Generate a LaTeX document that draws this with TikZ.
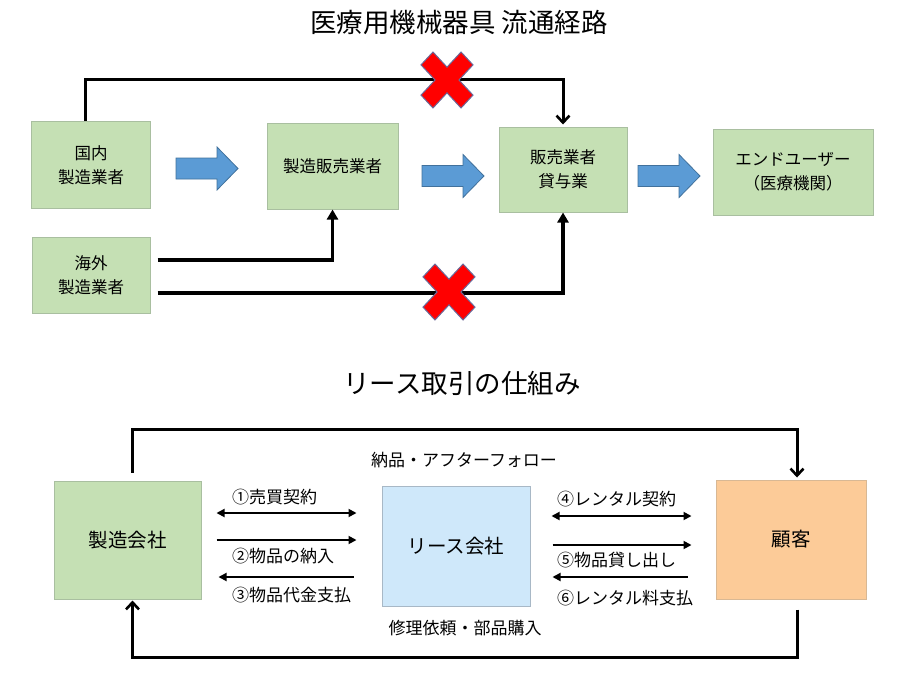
\documentclass[tikz,border=0pt]{standalone}
\usepackage{fontspec}
\setmainfont{Noto Sans CJK JP}
\usetikzlibrary{arrows.meta,calc}
\definecolor{boxgreen}{HTML}{C5E0B4}
\definecolor{boxgreenline}{HTML}{A9BFA0}
\definecolor{boxblue}{HTML}{CFE8FA}
\definecolor{boxblueline}{HTML}{A8B8C6}
\definecolor{boxorange}{HTML}{FCCB98}
\definecolor{boxorangeline}{HTML}{D8B894}
\definecolor{arrowblue}{HTML}{5B9BD5}
\definecolor{arrowblueline}{HTML}{41719C}
\definecolor{crossred}{HTML}{FF0000}
\definecolor{crossline}{HTML}{6A6A9A}
\newcommand\mybluearrow[2]{%
  \draw[bluearr] (#1,#2-10.5) -- ++(41,0) -- ++(0,-11) -- ++(21,21.5) -- ++(-21,21.5) -- ++(0,-11) -- ++(-41,0) -- cycle;}
\newcommand\mycross[2]{%
  \begin{scope}[shift={(#1,#2)}, x=26pt, y=-28pt]
  \draw[crossst] (0,0.46) -- (0.54,1) -- (1,0.54) -- (0.46,0) -- (1,-0.54) -- (0.54,-1) -- (0,-0.46)
    -- (-0.54,-1) -- (-1,-0.54) -- (-0.46,0) -- (-1,0.54) -- (-0.54,1) -- cycle;
  \end{scope}}
\begin{document}
\begin{tikzpicture}[x=1pt,y=-1pt,
  gbox/.style={draw=boxgreenline, fill=boxgreen, line width=1pt, inner sep=0pt, align=center, font=\fontsize{16.5}{24}\selectfont},
  bbox/.style={draw=boxblueline, fill=boxblue, line width=1pt, inner sep=0pt, align=center, font=\fontsize{19.5}{24}\selectfont},
  obox/.style={draw=boxorangeline, fill=boxorange, line width=1pt, inner sep=0pt, align=center, font=\fontsize{19.5}{24}\selectfont},
  bgbox/.style={gbox, font=\fontsize{19.5}{24}\selectfont},
  bluearr/.style={draw=arrowblueline, fill=arrowblue, line width=0.8pt, line join=miter},
  crossst/.style={draw=crossline, fill=crossred, line width=1pt, line join=miter},
  topline/.style={line width=3pt, line join=miter},
  baseline2/.style={line width=3.8pt, line join=miter},
  loopline/.style={line width=3pt, line join=miter},
  smallarr/.style={line width=1.8pt},
  lbl/.style={inner sep=0pt, font=\fontsize{17}{20}\selectfont},
  ttl/.style={inner sep=0pt, font=\fontsize{26.5}{30}\selectfont},
  barb/.tip={Straight Barb[length=7pt,width=13pt,line width=2.6pt]},
  tri/.tip={Triangle[length=10pt,width=11pt]},
  stri/.tip={Triangle[length=8pt,width=8pt]}
]
\useasboundingbox (0,0) rectangle (909,677);

% ---------- top diagram ----------
\node[ttl] (title1) at (459,22) {医療用機械器具 流通経路};

\node[gbox, minimum width=119pt, minimum height=87pt] (kokunai) at (91,165) {国内\\製造業者};
\node[gbox, minimum width=131pt, minimum height=86pt] (seizohan) at (332.5,166) {製造販売業者};
\node[gbox, minimum width=128pt, minimum height=85pt] (hanbai) at (563,169.5) {販売業者\\貸与業};
\node[gbox, minimum width=160pt, minimum height=86pt] (enduser) at (793,172) {エンドユーザー\\（医療機関）};
\node[gbox, minimum width=118pt, minimum height=76pt] (kaigai) at (91,275) {海外\\製造業者};

\mybluearrow{176}{168.5}
\mybluearrow{422}{176}
\mybluearrow{638}{176}

\draw[topline, -barb, shorten >=2pt] ([xshift=-6pt]kokunai.north) -- ++(0,-41.5) -| (hanbai.north);
\draw[baseline2, -tri] ([xshift=7pt,yshift=15pt]kaigai.east) -| (seizohan.south);
\draw[baseline2, -tri] ([xshift=7pt,yshift=-18pt]kaigai.east) -| (hanbai.south);

\mycross{447}{80}
\mycross{449}{292}

% ---------- bottom diagram ----------
\node[ttl] (title2) at (462,383) {リース取引の仕組み};

\node[bgbox, minimum width=147pt, minimum height=118pt] (seizo) at (127.5,540) {製造会社};
\node[bbox, minimum width=148pt, minimum height=120pt] (lease) at (456,546) {リース会社};
\node[obox, minimum width=150pt, minimum height=119pt] (kokyaku) at (791,539.5) {顧客};

\draw[loopline, -barb, shorten >=2pt] ([xshift=4.5pt,yshift=8pt]seizo.north) -- ++(0,-43) -| ([xshift=6pt]kokyaku.north);
\draw[loopline, -barb, shorten >=1pt] ([xshift=6pt,yshift=-10pt]kokyaku.south) -- ++(0,48) -| ([xshift=5pt]seizo.south);

\node[lbl] (after) at (464,460) {納品・アフターフォロー};
\node[lbl] (repair) at (465,628) {修理依頼・部品購入};

\draw[smallarr, stri-stri, shorten <=15pt, shorten >=25pt] (seizo.east |- 0,513) -- (lease.west |- 0,513);
\draw[smallarr, -stri, shorten <=15pt, shorten >=25pt] (seizo.east |- 0,540) -- (lease.west |- 0,540);
\draw[smallarr, -stri, shorten <=28pt, shorten >=17pt] (lease.west |- 0,577) -- (seizo.east |- 0,577);
\node[lbl, anchor=west] (l1) at (232,497) {①売買契約};
\node[lbl, anchor=west] (l2) at (232,556) {②物品の納入};
\node[lbl, anchor=west] (l3) at (232,595) {③物品代金支払};

\draw[smallarr, stri-stri, shorten <=21pt, shorten >=24pt] (lease.east |- 0,516) -- (kokyaku.west |- 0,516);
\draw[smallarr, -stri, shorten <=22pt, shorten >=24pt] (lease.east |- 0,545) -- (kokyaku.west |- 0,545);
\draw[smallarr, -stri, shorten <=28pt, shorten >=22pt] (kokyaku.west |- 0,577) -- (lease.east |- 0,577);
\node[lbl, anchor=west] (l4) at (557,499) {④レンタル契約};
\node[lbl, anchor=west] (l5) at (557,560) {⑤物品貸し出し};
\node[lbl, anchor=west] (l6) at (557,598) {⑥レンタル料支払};
\end{tikzpicture}
\end{document}
